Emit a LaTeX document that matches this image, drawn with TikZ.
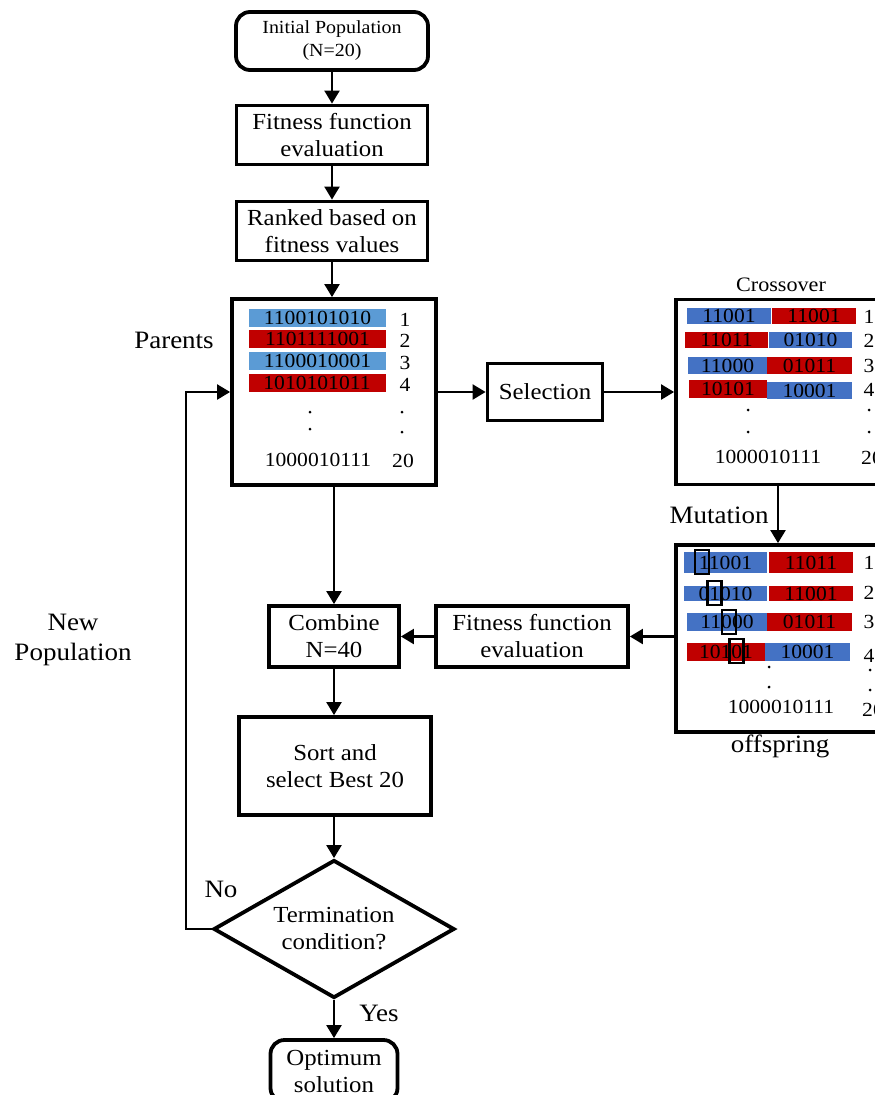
\documentclass[tikz,border=0pt]{standalone}
\usepackage{fontspec}
\setmainfont{Liberation Serif}[FakeStretch=1.08]
\usetikzlibrary{arrows.meta,shapes.geometric}
\definecolor{lblue}{HTML}{5B9BD5}
\definecolor{dred}{HTML}{C00000}
\definecolor{mblue}{HTML}{4472C4}
\begin{document}
\begin{tikzpicture}[x=1pt,y=-1pt,
  box/.style={draw,line width=3.8pt,inner sep=0pt,align=center,font=\fontsize{23}{27}\selectfont},
  rbox/.style={box,rounded corners=14pt},
  arr/.style={line width=2.2pt,-{Triangle[length=13pt,width=15pt]}},
  lab/.style={font=\fontsize{25}{30}\selectfont,align=center,inner sep=0pt},
  bar/.style={inner sep=0pt,font=\fontsize{20}{20}\selectfont},
  num/.style={font=\fontsize{20}{20}\selectfont,inner sep=0pt},
  hl/.style={draw,line width=2.2pt,inner sep=0pt,minimum width=14pt,minimum height=24pt},
  pt/.style={circle,fill,inner sep=0pt,minimum size=3pt}
]
\useasboundingbox (0,0) rectangle (875,1095);

% main flow
\node[rbox,minimum width=192pt,minimum height=58pt,font=\fontsize{18.5}{23}\selectfont] (init) at (332,41) {Initial Population\\(N=20)};
\node[box,minimum width=191pt,minimum height=59pt] (fit1) at (332,135) {Fitness function\\evaluation};
\node[box,minimum width=191pt,minimum height=59pt] (rank) at (332,231) {Ranked based on\\fitness values};
\node[box,minimum width=204pt,minimum height=186pt] (par) at (334,392) {};
\node[box,minimum width=115pt,minimum height=57pt] (sel) at (545,392) {Selection};
\node[box,minimum width=220pt,minimum height=185pt] (cross) at (786,392) {};
\node[box,minimum width=220pt,minimum height=187pt] (mut) at (786,638.5) {};
\node[box,minimum width=192pt,minimum height=61pt] (fit2) at (532,636.5) {Fitness function\\evaluation};
\node[box,minimum width=130pt,minimum height=61pt] (comb) at (334,636.5) {Combine\\N=40};
\node[box,minimum width=192pt,minimum height=98pt] (sort) at (335,766) {Sort and\\select Best 20};
\node[diamond,draw,line width=3.8pt,inner sep=0pt,aspect=1.75,minimum width=241pt,minimum height=138pt,align=center,font=\fontsize{23}{27}\selectfont] (term) at (334,929) {Termination\\condition?};
\node[rbox,minimum width=127pt,minimum height=62pt] (opt) at (334,1071) {Optimum\\solution};

% connectors
\draw[arr] (init) -- (fit1);
\draw[arr] (fit1) -- (rank);
\draw[arr] (rank.south) -- (rank.south |- par.north);
\draw[arr] (par) -- (sel);
\draw[arr] (sel) -- (cross);
\draw[arr] ([xshift=-8pt]cross.south) -- ([xshift=-8pt]cross.south |- mut.north);
\draw[arr] (mut.west |- fit2.east) -- (fit2.east);
\draw[arr] (fit2) -- (comb);
\draw[arr] (par.south) -- (par.south |- comb.north);
\draw[arr] (comb.south) -- (comb.south |- sort.north);
\draw[arr] (term.north |- sort.south) -- (term.north);
\draw[arr] (term.south) -- (term.south |- opt.north);
\draw[arr] (term.west) -- ++(-26,0) |- (par.west);

% labels
\node[lab] (parlab) at (174,340) {Parents};
\node[lab] (newpop) at (73,640) {New\\Population};
\node[lab] (nolab) at (221,889) {No};
\node[lab] (yeslab) at (379,1013) {Yes};
\node[lab] (mutlab) at (719,515) {Mutation};
\node[lab] (offlab) at (780,746) {offspring};
\node[lab,font=\fontsize{20.5}{24}\selectfont] (crosslab) at (781,285) {Crossover};

% parents content
\node[bar,fill=lblue,minimum width=137pt,minimum height=18pt] (p1) at (317.5,318) {1100101010};
\node[bar,fill=dred,minimum width=137pt,minimum height=18pt] (p2) at (317.5,339) {1101111001};
\node[bar,fill=lblue,minimum width=137pt,minimum height=18pt] (p3) at (317.5,361) {1100010001};
\node[bar,fill=dred,minimum width=137pt,minimum height=18pt] (p4) at (317,383) {1010101011};
\node[num] (pn1) at (405,320) {1};
\node[num] (pn2) at (405,341) {2};
\node[num] (pn3) at (405,363) {3};
\node[num] (pn4) at (405,385) {4};
\node[pt] (pd1) at (310,412) {};
\node[pt] (pd2) at (310,429) {};
\node[pt] (pd3) at (402,412) {};
\node[pt] (pd4) at (402,432) {};
\node[num] (p20) at (318,460) {1000010111};
\node[num] (pn20) at (403,461) {20};

% crossover content
\node[bar,fill=mblue,minimum width=84pt,minimum height=16pt] (c1a) at (729,316) {11001};
\node[bar,fill=dred,minimum width=84pt,minimum height=16pt] (c1b) at (814,316) {11001};
\node[bar,fill=dred,minimum width=83pt,minimum height=16pt] (c2a) at (726.5,340) {11011};
\node[bar,fill=mblue,minimum width=83pt,minimum height=16pt] (c2b) at (810.5,340) {01010};
\node[bar,fill=mblue,minimum width=79pt,minimum height=17pt] (c3a) at (727.5,365.5) {11000};
\node[bar,fill=dred,minimum width=85pt,minimum height=17pt] (c3b) at (809.5,365.5) {01011};
\node[bar,fill=dred,minimum width=78pt,minimum height=18pt] (c4a) at (728,389) {10101};
\node[bar,fill=mblue,minimum width=85pt,minimum height=17pt] (c4b) at (809.5,390.5) {10001};
\node[num] (cn1) at (869,317) {1};
\node[num] (cn2) at (869,341) {2};
\node[num] (cn3) at (869,366) {3};
\node[num] (cn4) at (869,390) {4};
\node[pt] (cd1) at (748,410) {};
\node[pt] (cd2) at (748,432) {};
\node[pt] (cd3) at (869,410) {};
\node[pt] (cd4) at (869,432) {};
\node[num] (c20) at (768,457) {1000010111};
\node[num] (cn20) at (872,458) {20};

% mutation content
\node[bar,fill=mblue,minimum width=83pt,minimum height=21pt] (m1a) at (725.5,562.5) {11001};
\node[bar,fill=dred,minimum width=84pt,minimum height=21pt] (m1b) at (811,562.5) {11011};
\node[bar,fill=mblue,minimum width=83pt,minimum height=15pt] (m2a) at (725.5,593.5) {01010};
\node[bar,fill=dred,minimum width=84pt,minimum height=15pt] (m2b) at (811,593.5) {11001};
\node[bar,fill=mblue,minimum width=80pt,minimum height=18pt] (m3a) at (727,622) {11000};
\node[bar,fill=dred,minimum width=85pt,minimum height=18pt] (m3b) at (809.5,622) {01011};
\node[bar,fill=dred,minimum width=78pt,minimum height=18pt] (m4a) at (726,652) {10101};
\node[bar,fill=mblue,minimum width=85pt,minimum height=18pt] (m4b) at (807.5,652) {10001};
\node[hl] (h1) at (702,562) {};
\node[hl] (h2) at (714.5,593) {};
\node[hl] (h3) at (729,622) {};
\node[hl] (h4) at (736.5,651) {};
\node[num] (mn1) at (869,563) {1};
\node[num] (mn2) at (869,593) {2};
\node[num] (mn3) at (869,622) {3};
\node[num] (mn4) at (869,656) {4};
\node[pt] (md1) at (769,667) {};
\node[pt] (md2) at (769,687) {};
\node[pt] (md3) at (870,670) {};
\node[pt] (md4) at (870,690) {};
\node[num] (m20) at (781,707) {1000010111};
\node[num] (mn20) at (873,710) {20};
\end{tikzpicture}
\end{document}
